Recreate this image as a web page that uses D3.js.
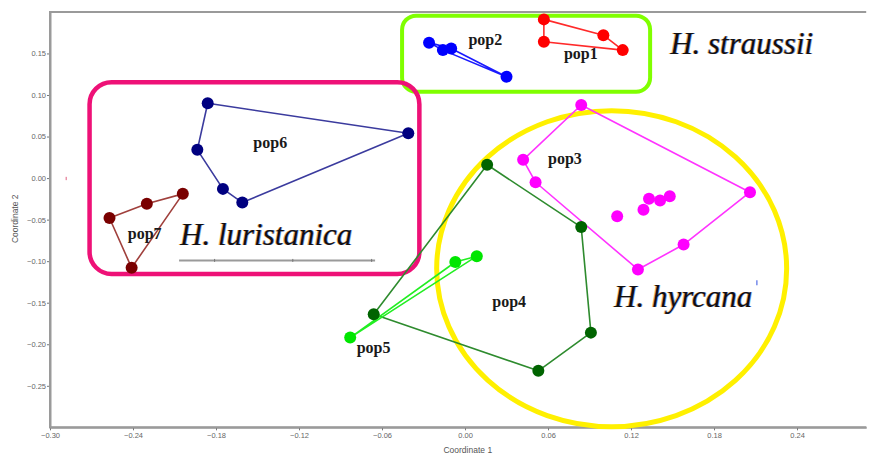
<!DOCTYPE html>
<html>
<head>
<meta charset="utf-8">
<script src="https://cdn.jsdelivr.net/npm/d3@7/dist/d3.min.js"></script>
<style>
  html, body { margin: 0; padding: 0; background: #fff; }
  svg { display: block; }
</style>
</head>
<body>
<svg id="chart" width="870" height="455"></svg>
<script>
// ---------------- DATA (Coordinate 1 / Coordinate 2) ----------------
const populations = ["pop1", "pop2", "pop3", "pop4", "pop5", "pop6", "pop7"];

const pop1X = [0.057, 0.057, 0.100, 0.114];
const pop1Y = [0.191, 0.164, 0.172, 0.154];

const pop2X = [-0.026, -0.016, -0.010, 0.030];
const pop2Y = [0.163, 0.154, 0.156, 0.122];

const pop3X = [0.084, 0.042, 0.051, 0.206, 0.158, 0.125, 0.110, 0.129, 0.133, 0.141, 0.148];
const pop3Y = [0.088, 0.022, -0.005, -0.017, -0.080, -0.110, -0.046, -0.038, -0.025, -0.027, -0.022];

const pop4X = [0.016, 0.084, 0.091, 0.053, -0.066];
const pop4Y = [0.016, -0.059, -0.186, -0.232, -0.164];

const pop5X = [-0.083, -0.007, 0.0085];
const pop5Y = [-0.192, -0.101, -0.094];

const pop6X = [-0.186, -0.041, -0.1935, -0.175, -0.161];
const pop6Y = [0.090, 0.054, 0.034, -0.013, -0.0295];

const pop7X = [-0.257, -0.230, -0.204, -0.241];
const pop7Y = [-0.048, -0.031, -0.019, -0.108];

const xTicks = [-0.30, -0.24, -0.18, -0.12, -0.06, 0.00, 0.06, 0.12, 0.18, 0.24];
const yTicks = [-0.25, -0.20, -0.15, -0.10, -0.05, 0.00, 0.05, 0.10, 0.15];
const xTitle = "Coordinate 1";
const yTitle = "Coordinate 2";
const speciesNames = ["H. straussii", "H. luristanica", "H. hyrcana"];

// ---------------- STYLES ----------------
const colors = {
  pop1: "#ff0000", pop2: "#0000ff", pop3: "#ff00ff", pop4: "#006400",
  pop5: "#00e600", pop6: "#000080", pop7: "#7a0000"
};
const lineColors = {
  pop1: "#ff2a2a", pop2: "#1a1aff", pop3: "#ff33ff", pop4: "#2e8b2e",
  pop5: "#22ee22", pop6: "#3b3b9e", pop7: "#a0403c"
};

const seriesX = { pop1: pop1X, pop2: pop2X, pop3: pop3X, pop4: pop4X, pop5: pop5X, pop6: pop6X, pop7: pop7X };
const seriesY = { pop1: pop1Y, pop2: pop2Y, pop3: pop3Y, pop4: pop4Y, pop5: pop5Y, pop6: pop6Y, pop7: pop7Y };

// ---------------- SCALES ----------------
const x = d3.scaleLinear().domain([-0.30, 0.29]).range([50, 866.2]);
const y = d3.scaleLinear().domain([-0.30, 0.20]).range([427.35, 11.9]);

const svg = d3.select("#chart");

// ---------------- AXES ----------------
const axisColor = "#9a9a9a";
const tickFont = "Liberation Sans, Arial, sans-serif";

const xAxis = svg.append("g")
  .attr("transform", `translate(0,${y(-0.30)})`)
  .call(d3.axisBottom(x).tickValues(xTicks).tickFormat(d3.format(".2f")).tickSize(3).tickSizeOuter(0));
const yAxis = svg.append("g")
  .attr("transform", `translate(${x(-0.30)},0)`)
  .call(d3.axisLeft(y).tickValues(yTicks).tickFormat(d3.format(".2f")).tickSize(3).tickSizeOuter(0));

[xAxis, yAxis].forEach(g => {
  g.select(".domain").attr("stroke", axisColor).attr("stroke-width", 2);
  g.selectAll(".tick line").attr("stroke", "#777").attr("stroke-width", 1);
  g.selectAll(".tick text").attr("fill", "#666").style("font-family", tickFont).style("font-size", "7.5px");
});
xAxis.selectAll(".tick text").attr("dy", "0.9em").attr("y", 4);
yAxis.selectAll(".tick text").attr("x", -4);

// extend domain lines to corner, and top frame line
svg.append("line")
  .attr("x1", x(-0.30) - 1).attr("x2", x(0.29)).attr("y1", y(-0.30)).attr("y2", y(-0.30))
  .attr("stroke", axisColor).attr("stroke-width", 2);
svg.append("line")
  .attr("x1", x(-0.30)).attr("x2", x(-0.30)).attr("y1", y(0.20)).attr("y2", y(-0.30) + 1)
  .attr("stroke", axisColor).attr("stroke-width", 2);
svg.append("line")
  .attr("x1", x(-0.30) - 1).attr("x2", x(0.29)).attr("y1", y(0.20)).attr("y2", y(0.20))
  .attr("stroke", axisColor).attr("stroke-width", 2);

svg.append("text")
  .attr("x", x(0.002)).attr("y", 453)
  .attr("text-anchor", "middle")
  .style("font-family", tickFont).style("font-size", "8.5px").attr("fill", "#555")
  .text(xTitle);
svg.append("text")
  .attr("transform", `translate(18,${y(-0.049)}) rotate(-90)`)
  .attr("text-anchor", "middle")
  .style("font-family", tickFont).style("font-size", "8.5px").attr("fill", "#555")
  .text(yTitle);

// ---------------- ANNOTATION SHAPES (under data) ----------------
const ann = svg.append("g");
// green rounded box (H. straussii)
ann.append("rect")
  .attr("x", x(-0.0455)).attr("y", y(0.1955))
  .attr("width", x(0.1338) - x(-0.0455)).attr("height", y(0.104) - y(0.1955))
  .attr("rx", 14).attr("ry", 14)
  .attr("fill", "none").attr("stroke", "#80ff00").attr("stroke-width", 4);
// pink rounded box (H. luristanica)
ann.append("rect")
  .attr("x", x(-0.2714)).attr("y", y(0.1154))
  .attr("width", x(-0.0330) - x(-0.2714)).attr("height", y(-0.1154) - y(0.1154))
  .attr("rx", 22).attr("ry", 22)
  .attr("fill", "none").attr("stroke", "#ee1177").attr("stroke-width", 4.5);
// yellow ellipse (H. hyrcana)
ann.append("ellipse")
  .attr("cx", x(0.106)).attr("cy", y(-0.109))
  .attr("rx", 175).attr("ry", 158)
  .attr("fill", "none").attr("stroke", "#fff000").attr("stroke-width", 5);

// ---------------- HULLS AND POINTS ----------------
const plot = svg.append("g");
populations.forEach(p => {
  const pts = seriesX[p].map((v, i) => [x(v), y(seriesY[p][i])]);
  const hull = d3.polygonHull(pts);
  if (hull) {
    plot.append("path")
      .attr("d", "M" + hull.map(d => d.join(",")).join("L") + "Z")
      .attr("fill", "none")
      .attr("stroke", lineColors[p])
      .attr("stroke-width", 1.6)
      .attr("stroke-linejoin", "round");
  }
});
populations.forEach(p => {
  plot.selectAll(null)
    .data(seriesX[p].map((v, i) => ({ x: v, y: seriesY[p][i] })))
    .join("circle")
    .attr("cx", d => x(d.x)).attr("cy", d => y(d.y))
    .attr("r", 6)
    .attr("fill", colors[p]);
});

// ---------------- POP LABELS ----------------
const popLabels = [
  { t: "pop1", x: 0.0715, y: 0.1435 },
  { t: "pop2", x: 0.0025, y: 0.160 },
  { t: "pop3", x: 0.0600, y: 0.0170 },
  { t: "pop4", x: 0.0197, y: -0.155 },
  { t: "pop5", x: -0.0783, y: -0.211 },
  { t: "pop6", x: -0.1530, y: 0.0366 },
  { t: "pop7", x: -0.2438, y: -0.0730 }
];
svg.append("g").selectAll("text")
  .data(popLabels)
  .join("text")
  .attr("x", d => x(d.x)).attr("y", d => y(d.y))
  .style("font-family", "Liberation Serif, Times New Roman, serif")
  .style("font-weight", "bold").style("font-size", "16px")
  .attr("fill", "#1a1a1a")
  .text(d => d.t);

// ---------------- SPECIES LABELS ----------------
const speciesPos = [
  { x: 0.1483, y: 0.149 },
  { x: -0.2060, y: -0.0811 },
  { x: 0.1077, y: -0.155 }
];
const sp = svg.append("g");
speciesNames.forEach((name, i) => {
  const px = x(speciesPos[i].x), py = y(speciesPos[i].y);
  [["#d98a2b", -0.8, 0.7], ["#2b5fd9", 0.8, 0.6], ["#111", 0, 1]].forEach(([c, dx, op]) => {
    sp.append("text")
      .attr("x", px + dx).attr("y", py)
      .style("font-family", "Liberation Serif, Times New Roman, serif")
      .style("font-style", "italic").style("font-size", "31px")
      .attr("fill", c).attr("opacity", op)
      .text(name);
  });
});

// underline bar under H. luristanica
const ul = svg.append("g");
ul.append("line")
  .attr("x1", x(-0.2067)).attr("x2", x(-0.0650))
  .attr("y1", y(-0.0991)).attr("y2", y(-0.0991))
  .attr("stroke", "#9a9a9a").attr("stroke-width", 2);
[-0.1810, -0.1245, -0.0675].forEach(v => {
  ul.append("line")
    .attr("x1", x(v)).attr("x2", x(v))
    .attr("y1", y(-0.0991) - 1.5).attr("y2", y(-0.0991) + 1.5)
    .attr("stroke", "#777").attr("stroke-width", 1);
});

// small stray marks
svg.append("line")
  .attr("x1", x(-0.2883)).attr("x2", x(-0.2883))
  .attr("y1", y(0.0015)).attr("y2", y(-0.0025))
  .attr("stroke", "#e06080").attr("stroke-width", 1);
svg.append("line")
  .attr("x1", x(0.2110)).attr("x2", x(0.2110))
  .attr("y1", y(-0.1230)).attr("y2", y(-0.1290))
  .attr("stroke", "#3050e0").attr("stroke-width", 1);
</script>
</body>
</html>
